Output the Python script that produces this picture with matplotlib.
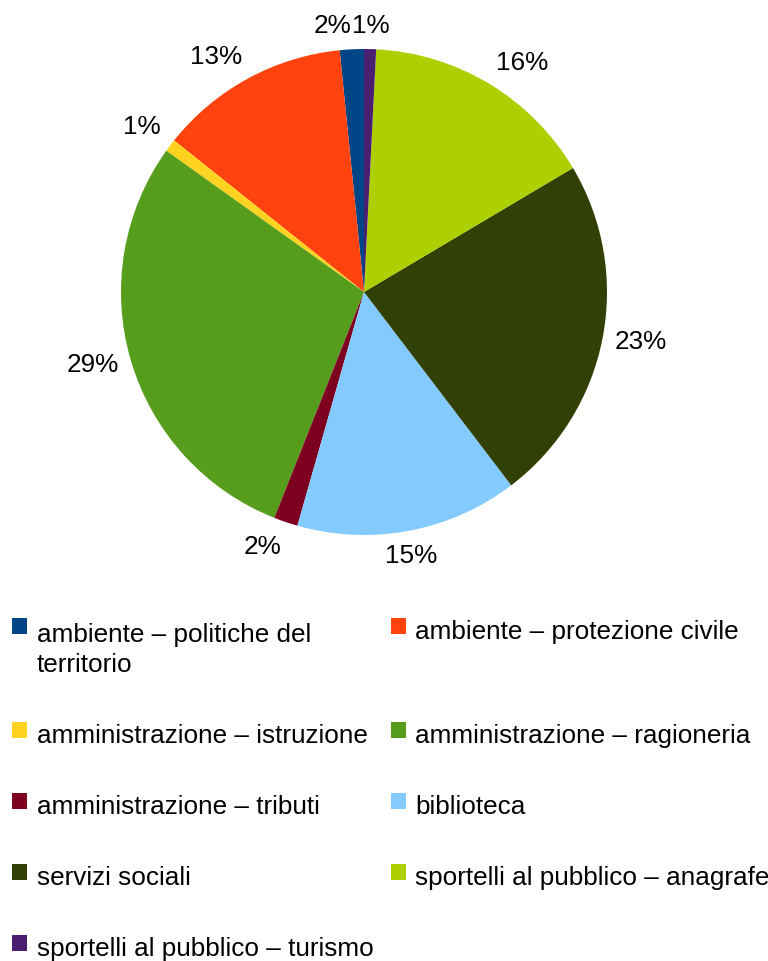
import numpy as np
import matplotlib
matplotlib.use("Agg")
import matplotlib.pyplot as plt
from matplotlib.patches import Rectangle

plt.rcParams['font.family'] = ['Liberation Sans', 'DejaVu Sans']

categories = [
    "ambiente – politiche del\nterritorio",
    "ambiente – protezione civile",
    "amministrazione – istruzione",
    "amministrazione – ragioneria",
    "amministrazione – tributi",
    "biblioteca",
    "servizi sociali",
    "sportelli al pubblico – anagrafe",
    "sportelli al pubblico – turismo",
]
values = [1.6, 12.7, 0.85, 28.9, 1.6, 14.8, 23.2, 15.7, 0.8]
colors = ["#004586", "#ff420e", "#ffd320", "#579d1c", "#7e0021",
          "#83caff", "#314004", "#aecf00", "#4b1f6f"]

W, H = 768, 962
FS = 18.8
fig = plt.figure(figsize=(W / 100, H / 100), dpi=100)
fig.patch.set_facecolor("white")

cx, cy, R = 364, 293, 243
ax = fig.add_axes([(cx - R) / W, (H - cy - R) / H, 2 * R / W, 2 * R / H])
wedges, _ = ax.pie(values, colors=colors, startangle=90, counterclock=True,
                   radius=1.0, wedgeprops=dict(linewidth=0, edgecolor="none"))
ax.set_xlim(-1, 1)
ax.set_ylim(-1, 1)
ax.axis("off")

total = sum(values)
ha_override = {0: "right"}
for i, w in enumerate(wedges):
    ang = np.deg2rad((w.theta1 + w.theta2) / 2)
    c, s = np.cos(ang), np.sin(ang)
    r = 1.05
    ha = "left" if c > 0.3 else ("right" if c < -0.3 else "center")
    ha = ha_override.get(i, ha)
    va = "bottom" if s > 0.3 else ("top" if s < -0.3 else "center")
    pct = values[i] / total * 100
    ax.text(r * c, r * s, f"{pct:.0f}%", ha=ha, va=va, fontsize=FS,
            color="black", clip_on=False)

# Legend (row-major, two columns)
baselines = [639, 743, 814, 885, 956]
line_h = 33
col_sw_x = [12, 391]
col_tx_x = [37, 415]
for i, (lab, col) in enumerate(zip(categories, colors)):
    row, cc = divmod(i, 2)
    b = baselines[row]
    fig.patches.append(Rectangle((col_sw_x[cc] / W, 1 - (b - 4) / H), 15 / W, 16 / H,
                                 transform=fig.transFigure, facecolor=col,
                                 edgecolor="none"))
    nl = lab.count("\n")
    fig.text(col_tx_x[cc] / W, 1 - (b + nl * line_h) / H, lab, ha="left",
             va="baseline", fontsize=FS, color="black", linespacing=1.3)

fig.savefig("out.png", dpi=100, facecolor="white")
